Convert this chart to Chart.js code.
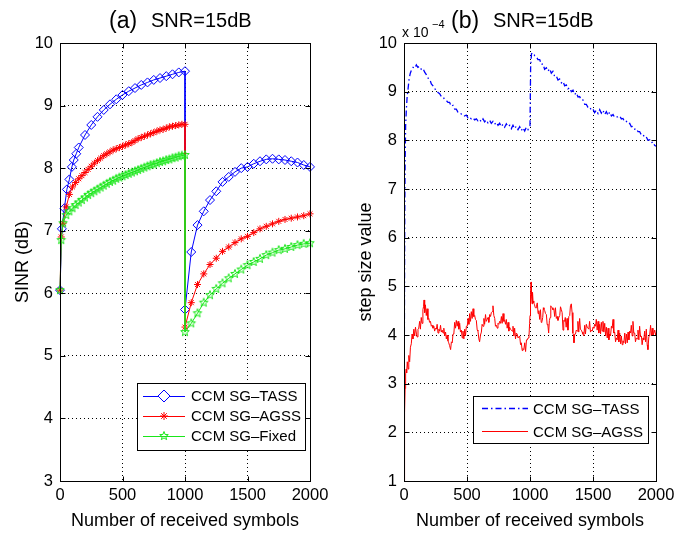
<!DOCTYPE html>
<html>
<head>
<meta charset="utf-8">
<script src="https://cdn.jsdelivr.net/npm/chart.js@4.4.1/dist/chart.umd.min.js"></script>
<style>
  html, body { margin: 0; padding: 0; background: #fff; }
  #wrap { position: relative; width: 695px; height: 536px; }
  #chartA { position: absolute; left: 0; top: 0; }
  #chartB { position: absolute; left: 347px; top: 0; }
</style>
</head>
<body>
<div id="wrap">
  <canvas id="chartA" width="347" height="536"></canvas>
  <canvas id="chartB" width="348" height="536"></canvas>
</div>
<script>
// (a) SINR vs number of received symbols
const tassX = [0, 15, 35, 55, 75, 95, 110, 130, 150, 200, 250, 300, 350, 400, 450, 500, 550, 600, 650, 700, 750, 800, 850, 900, 950, 1000,
  1000, 1050, 1100, 1150, 1200, 1250, 1300, 1350, 1400, 1450, 1500, 1550, 1600, 1650, 1700, 1750, 1800, 1850, 1900, 1950, 2000];
const tassSinr = [6.05, 7.03, 7.36, 7.66, 7.82, 8.02, 8.13, 8.23, 8.33, 8.53, 8.69, 8.82, 8.93, 9.02, 9.10, 9.17, 9.23, 9.28, 9.33, 9.37, 9.41, 9.44, 9.47, 9.50, 9.53, 9.55,
  5.74, 6.66, 7.09, 7.31, 7.49, 7.63, 7.78, 7.86, 7.94, 8.00, 8.02, 8.07, 8.11, 8.14, 8.15, 8.14, 8.13, 8.11, 8.09, 8.05, 8.02];

const denseX = [0, 10, 25, 50, 75, 100, 125, 150, 175, 200, 225, 250, 275, 300, 325, 350, 375, 400, 425, 450, 475,
  500, 525, 550, 575, 600, 625, 650, 675, 700, 725, 750, 775, 800, 825, 850, 875, 900, 925, 950, 975, 1000,
  1000, 1050, 1100, 1150, 1200, 1250, 1300, 1350, 1400, 1450, 1500, 1550, 1600, 1650, 1700, 1750, 1800, 1850, 1900, 1950, 2000];
const agssSinr = [6.05, 6.90, 7.12, 7.38, 7.58, 7.70, 7.77, 7.83, 7.88, 7.93, 7.98, 8.03, 8.08, 8.12, 8.16, 8.20, 8.23, 8.26, 8.29, 8.31, 8.33,
  8.35, 8.37, 8.39, 8.41, 8.44, 8.47, 8.49, 8.51, 8.53, 8.55, 8.57, 8.59, 8.61, 8.62, 8.64, 8.66, 8.67, 8.68, 8.69, 8.70, 8.70,
  5.46, 5.85, 6.14, 6.31, 6.46, 6.56, 6.67, 6.74, 6.81, 6.87, 6.91, 6.97, 7.03, 7.07, 7.11, 7.15, 7.18, 7.20, 7.22, 7.24, 7.27];
const fixedSinr = [6.05, 6.85, 7.12, 7.25, 7.31, 7.36, 7.41, 7.45, 7.49, 7.53, 7.57, 7.60, 7.63, 7.66, 7.69, 7.72, 7.75, 7.78, 7.80, 7.83, 7.85,
  7.87, 7.89, 7.91, 7.93, 7.95, 7.97, 7.99, 8.01, 8.03, 8.05, 8.06, 8.08, 8.10, 8.11, 8.13, 8.14, 8.16, 8.17, 8.19, 8.20, 8.21,
  5.38, 5.52, 5.68, 5.85, 5.97, 6.07, 6.16, 6.24, 6.31, 6.38, 6.45, 6.50, 6.55, 6.61, 6.65, 6.69, 6.71, 6.74, 6.77, 6.79, 6.80];

// (b) step size value, in units of 1e-4
const tassStepX = [
  0, 2, 4, 6, 9, 13, 18, 25, 32, 40,
  50, 60, 72, 85, 98, 110, 124, 137, 151, 164,
  177, 190, 204, 217, 230, 243, 257, 270, 283, 296,
  309, 322, 335, 349, 362, 375, 389, 402, 415, 428,
  441, 455, 468, 481, 494, 508, 521, 534, 548, 561,
  574, 587, 600, 614, 627, 640, 653, 666, 680, 693,
  706, 719, 733, 746, 759, 772, 786, 799, 812, 825,
  839, 852, 865, 878, 891, 905, 918, 931, 944, 958,
  971, 984, 995, 1000, 1005, 1012, 1024, 1037, 1050, 1063,
  1077, 1090, 1103, 1116, 1130, 1143, 1156, 1169, 1182, 1196,
  1209, 1222, 1235, 1249, 1262, 1275, 1288, 1301, 1315, 1328,
  1341, 1354, 1368, 1381, 1394, 1407, 1420, 1434, 1447, 1460,
  1473, 1487, 1500, 1513, 1526, 1540, 1553, 1566, 1579, 1593,
  1606, 1619, 1632, 1646, 1659, 1672, 1685, 1698, 1712, 1725,
  1738, 1751, 1765, 1778, 1791, 1804, 1817, 1831, 1844, 1857,
  1870, 1884, 1897, 1910, 1923, 1936, 1950, 1963, 1976, 1989,
  2000];
const tassStep = [
  1.00, 3.00, 5.00, 6.50, 7.60, 8.30, 8.60, 8.90, 9.05, 9.25,
  9.38, 9.45, 9.50, 9.48, 9.55, 9.50, 9.52, 9.46, 9.48, 9.40,
  9.35, 9.28, 9.26, 9.16, 9.12, 9.06, 9.04, 8.98, 8.96, 8.90,
  8.90, 8.84, 8.82, 8.78, 8.78, 8.70, 8.72, 8.64, 8.64, 8.58,
  8.58, 8.54, 8.54, 8.50, 8.52, 8.46, 8.48, 8.44, 8.46, 8.42,
  8.44, 8.40, 8.43, 8.38, 8.44, 8.38, 8.42, 8.36, 8.41, 8.35,
  8.39, 8.33, 8.37, 8.31, 8.35, 8.28, 8.33, 8.27, 8.34, 8.28,
  8.31, 8.24, 8.31, 8.24, 8.29, 8.22, 8.28, 8.20, 8.26, 8.19,
  8.27, 8.22, 8.28, 8.30, 9.50, 9.78, 9.80, 9.74, 9.72, 9.66,
  9.66, 9.56, 9.57, 9.46, 9.49, 9.42, 9.47, 9.38, 9.42, 9.31,
  9.32, 9.24, 9.26, 9.18, 9.21, 9.12, 9.14, 9.06, 9.08, 9.00,
  9.03, 8.94, 8.98, 8.89, 8.90, 8.83, 8.83, 8.74, 8.74, 8.68,
  8.69, 8.62, 8.64, 8.57, 8.62, 8.55, 8.63, 8.56, 8.62, 8.53,
  8.59, 8.51, 8.58, 8.50, 8.53, 8.47, 8.48, 8.48, 8.50, 8.44,
  8.45, 8.38, 8.39, 8.34, 8.35, 8.28, 8.29, 8.23, 8.24, 8.18,
  8.18, 8.11, 8.12, 8.06, 8.07, 8.00, 8.01, 7.95, 7.97, 7.90,
  7.88];

const agssStepX = [
  0, 3, 6, 9, 13, 17, 21, 26, 32, 38,
  45, 51, 58, 64, 71, 78, 85, 91, 98, 104,
  111, 117, 124, 130, 137, 143, 150, 155, 159, 164,
  170, 177, 183, 190, 197, 203, 210, 217, 223, 230,
  237, 243, 250, 257, 263, 270, 277, 283, 290, 296,
  303, 310, 316, 323, 330, 336, 343, 349, 355, 362,
  370, 376, 383, 389, 396, 402, 409, 415, 422, 429,
  435, 442, 448, 455, 462, 468, 475, 482, 488, 495,
  502, 508, 515, 521, 528, 534, 541, 548, 554, 561,
  567, 574, 581, 587, 594, 600, 607, 614, 620, 627,
  634, 640, 647, 653, 660, 667, 673, 680, 687, 693,
  700, 706, 713, 720, 726, 733, 740, 746, 753, 759,
  766, 773, 779, 786, 793, 799, 806, 812, 819, 826,
  832, 838, 845, 852, 858, 865, 872, 878, 885, 891,
  898, 905, 911, 918, 925, 931, 938, 944, 951, 958,
  965, 972, 979, 985, 992, 997, 1000, 1004, 1008, 1012,
  1016, 1020, 1024, 1030, 1036, 1042, 1048, 1053, 1058, 1064,
  1070, 1077, 1083, 1089, 1095, 1101, 1106, 1111, 1117, 1123,
  1130, 1136, 1142, 1148, 1154, 1160, 1165, 1169, 1175, 1182,
  1189, 1196, 1202, 1209, 1216, 1222, 1229, 1236, 1242, 1249,
  1255, 1262, 1268, 1274, 1280, 1287, 1294, 1301, 1308, 1315,
  1321, 1328, 1334, 1340, 1345, 1349, 1355, 1361, 1367, 1374,
  1380, 1387, 1394, 1400, 1407, 1414, 1420, 1427, 1434, 1440,
  1447, 1454, 1460, 1467, 1473, 1480, 1487, 1494, 1500, 1507,
  1513, 1520, 1526, 1533, 1540, 1546, 1553, 1560, 1566, 1573,
  1579, 1586, 1593, 1600, 1606, 1613, 1620, 1626, 1632, 1639,
  1646, 1652, 1659, 1665, 1672, 1679, 1685, 1692, 1699, 1705,
  1712, 1719, 1725, 1732, 1738, 1745, 1752, 1758, 1765, 1772,
  1778, 1785, 1791, 1798, 1804, 1811, 1817, 1824, 1831, 1837,
  1844, 1851, 1857, 1864, 1870, 1877, 1884, 1890, 1897, 1903,
  1910, 1917, 1923, 1930, 1936, 1943, 1950, 1957, 1963, 1970,
  1976, 1983, 1990, 1997, 2000];
const agssStep = [
  1.00, 1.80, 2.40, 2.90, 3.20, 3.30, 3.22, 3.45, 3.30, 3.58,
  3.45, 3.75, 3.82, 4.02, 3.92, 4.12, 3.98, 4.16, 4.04, 3.96,
  4.12, 4.14, 4.28, 4.12, 4.36, 4.24, 4.52, 4.58, 4.72, 4.46,
  4.62, 4.40, 4.54, 4.32, 4.34, 4.26, 4.28, 4.18, 4.20, 4.14,
  4.18, 4.08, 4.14, 4.12, 4.22, 4.04, 4.12, 4.08, 4.20, 4.06,
  4.10, 4.04, 4.14, 3.98, 4.06, 3.92, 4.00, 3.88, 3.84, 3.78,
  3.70, 3.86, 3.84, 4.02, 4.04, 4.26, 4.14, 4.30, 4.18, 4.28,
  4.12, 4.24, 4.06, 4.10, 3.94, 4.08, 3.92, 4.12, 3.98, 4.18,
  4.18, 4.34, 4.22, 4.44, 4.28, 4.48, 4.34, 4.54, 4.38, 4.40,
  4.32, 4.30, 4.10, 4.08, 3.92, 3.86, 4.00, 4.06, 4.22, 4.18,
  4.34, 4.22, 4.42, 4.28, 4.32, 4.36, 4.26, 4.42, 4.38, 4.46,
  4.48, 4.60, 4.40, 4.34, 4.18, 4.20, 4.14, 4.24, 4.22, 4.28,
  4.24, 4.38, 4.24, 4.44, 4.28, 4.30, 4.22, 4.32, 4.14, 4.26,
  4.08, 4.16, 4.12, 4.10, 4.08, 4.18, 3.98, 4.14, 3.92, 4.04,
  4.02, 3.94, 3.94, 3.98, 3.80, 3.84, 3.68, 3.72, 3.70, 3.84,
  3.66, 3.90, 3.90, 3.94, 3.98, 4.24, 4.40, 4.84, 5.09, 4.80,
  4.64, 4.88, 4.70, 4.66, 4.62, 4.56, 4.56, 4.62, 4.66, 4.44,
  4.50, 4.32, 4.52, 4.26, 4.28, 4.36, 4.56, 4.52, 4.50, 4.44,
  4.42, 4.22, 4.20, 4.04, 4.30, 4.36, 4.60, 4.58, 4.56, 4.52,
  4.54, 4.38, 4.56, 4.34, 4.38, 4.30, 4.36, 4.40, 4.58, 4.52,
  4.46, 4.10, 4.30, 4.28, 4.36, 4.16, 4.34, 4.10, 4.38, 4.40,
  4.60, 4.64, 4.46, 4.04, 4.00, 3.84, 4.02, 4.02, 4.10, 4.08,
  4.28, 4.06, 4.34, 4.12, 4.10, 4.06, 4.02, 3.98, 4.20, 4.02,
  4.22, 4.16, 4.16, 4.12, 4.28, 4.06, 4.10, 4.08, 4.16, 4.14,
  4.22, 4.18, 4.32, 4.10, 4.28, 4.04, 4.22, 4.02, 4.26, 4.08,
  4.28, 4.06, 4.24, 3.98, 4.16, 3.94, 4.14, 3.90, 4.02, 3.98,
  4.18, 4.14, 4.32, 4.04, 4.06, 3.86, 3.94, 3.90, 4.10, 3.86,
  4.04, 3.82, 3.98, 3.80, 3.88, 3.84, 4.04, 3.82, 4.02, 3.84,
  4.06, 3.90, 4.08, 4.04, 4.20, 3.98, 4.28, 4.04, 4.04, 3.86,
  3.94, 3.92, 4.10, 3.90, 4.18, 3.96, 3.98, 3.80, 3.94, 3.90,
  4.08, 3.86, 4.12, 3.80, 3.70, 3.96, 4.00, 4.20, 3.98, 4.14,
  4.00, 4.04, 4.10, 4.00, 4.04];

const FONT = '"Liberation Sans", Arial, Helvetica, sans-serif';
const BLUE = '#0000ff';
const RED = '#ff0000';
const GREEN = '#19e619';

Chart.defaults.font.family = FONT;
Chart.defaults.color = '#000';

function toPoints(xs, ys) {
  return xs.map((x, i) => ({ x, y: ys[i] }));
}

// hollow pentagram marker (matlab 'p')
function pentagram(color, r) {
  const c = document.createElement('canvas');
  const s = Math.ceil(r * 2 + 3);
  c.width = s;
  c.height = s;
  const g = c.getContext('2d');
  g.strokeStyle = color;
  g.lineWidth = 1;
  g.beginPath();
  for (let i = 0; i < 10; i++) {
    const ang = -Math.PI / 2 + (i * Math.PI) / 5;
    const rr = i % 2 ? r * 0.42 : r;
    g.lineTo(s / 2 + rr * Math.cos(ang), s / 2 + rr * Math.sin(ang));
  }
  g.closePath();
  g.stroke();
  return c;
}
const greenStar = pentagram(GREEN, 4.5);

// box around the axes plus matlab-style inner ticks
const boxPlugin = {
  id: 'matlabBox',
  afterDatasetsDraw(chart) {
    const { ctx, chartArea: a, scales } = chart;
    const L = Math.round(a.left) + 0.5;
    const R = Math.round(a.right) + 0.5;
    const T = Math.round(a.top) + 0.5;
    const B = Math.round(a.bottom) + 0.5;
    ctx.save();
    ctx.strokeStyle = '#000';
    ctx.lineWidth = 1;
    ctx.setLineDash([]);
    ctx.beginPath();
    scales.x.ticks.forEach((t) => {
      const px = Math.round(scales.x.getPixelForValue(t.value)) + 0.5;
      ctx.moveTo(px, B); ctx.lineTo(px, B - 5);
      ctx.moveTo(px, T); ctx.lineTo(px, T + 5);
    });
    scales.y.ticks.forEach((t) => {
      const py = Math.round(scales.y.getPixelForValue(t.value)) + 0.5;
      ctx.moveTo(L, py); ctx.lineTo(L + 5, py);
      ctx.moveTo(R, py); ctx.lineTo(R - 5, py);
    });
    ctx.stroke();
    ctx.strokeRect(L, T, R - L, B - T);
    ctx.restore();
  },
};

function textPlugin(id, draw) {
  return {
    id,
    afterDraw(chart) {
      const ctx = chart.ctx;
      ctx.save();
      ctx.fillStyle = '#000';
      ctx.textBaseline = 'alphabetic';
      ctx.textAlign = 'left';
      draw(ctx);
      ctx.restore();
    },
  };
}

function legendBox(ctx, x, y, w, h) {
  ctx.fillStyle = '#fff';
  ctx.fillRect(x, y, w, h);
  ctx.strokeStyle = '#000';
  ctx.lineWidth = 1;
  ctx.setLineDash([]);
  ctx.strokeRect(x + 0.5, y + 0.5, w, h);
}

function scaleOpts(min, max, step, title, titlePad, width, height, axis) {
  return {
    type: 'linear',
    min,
    max,
    ticks: {
      stepSize: step,
      color: '#000',
      font: { size: 16.5 },
      padding: axis === 'x' ? 5 : 7,
      maxRotation: 0,
      autoSkip: false,
      callback: (v) => String(v),
    },
    grid: { color: '#000', lineWidth: 1, drawTicks: false },
    border: { display: false, dash: [1, 3] },
    title: {
      display: true,
      text: title,
      color: '#000',
      font: { size: 18 },
      padding: titlePad,
    },
    afterFit(scale) {
      if (axis === 'x') scale.height = height;
      else scale.width = width;
    },
  };
}

const titleA = textPlugin('titleA', (ctx) => {
  ctx.font = '23px ' + FONT;
  ctx.fillText('(a)', 109, 28);
  ctx.font = '20px ' + FONT;
  ctx.fillText('SNR=15dB', 151, 27);
});

const legendA = textPlugin('legendA', (ctx) => {
  legendBox(ctx, 137, 383, 168, 67);
  const rows = [
    { y: 396, color: BLUE, label: 'CCM SG\u2013TASS', marker: 'diamond' },
    { y: 416, color: RED, label: 'CCM SG\u2013AGSS', marker: 'asterisk' },
    { y: 436, color: GREEN, label: 'CCM SG\u2013Fixed', marker: 'star' },
  ];
  rows.forEach((r) => {
    ctx.strokeStyle = r.color;
    ctx.lineWidth = 1;
    ctx.beginPath();
    ctx.moveTo(143, r.y + 0.5);
    ctx.lineTo(185, r.y + 0.5);
    ctx.stroke();
    const mx = 164;
    if (r.marker === 'diamond') {
      ctx.beginPath();
      ctx.moveTo(mx, r.y - 6); ctx.lineTo(mx + 6, r.y); ctx.lineTo(mx, r.y + 6); ctx.lineTo(mx - 6, r.y); ctx.closePath();
      ctx.fillStyle = '#fff';
      ctx.fill();
      ctx.stroke();
    } else if (r.marker === 'asterisk') {
      ctx.beginPath();
      for (let k = 0; k < 4; k++) {
        const ang = (k * Math.PI) / 4;
        ctx.moveTo(mx - 4 * Math.cos(ang), r.y - 4 * Math.sin(ang));
        ctx.lineTo(mx + 4 * Math.cos(ang), r.y + 4 * Math.sin(ang));
      }
      ctx.stroke();
    } else {
      ctx.drawImage(greenStar, mx - greenStar.width / 2, r.y - greenStar.height / 2);
    }
    ctx.fillStyle = '#000';
    ctx.font = '15px ' + FONT;
    ctx.textBaseline = 'middle';
    ctx.fillText(r.label, 191, r.y + 1);
  });
});

new Chart(document.getElementById('chartA'), {
  type: 'scatter',
  data: {
    datasets: [
      {
        label: 'CCM SG\u2013TASS',
        data: toPoints(tassX, tassSinr),
        showLine: true,
        borderColor: BLUE,
        borderWidth: 1,
        pointStyle: 'rectRot',
        pointRadius: 4.5,
        pointBorderColor: BLUE,
        pointBackgroundColor: 'rgba(0,0,0,0)',
        pointBorderWidth: 1,
        clip: 8,
        order: 2,
      },
      {
        label: 'CCM SG\u2013AGSS',
        data: toPoints(denseX, agssSinr),
        showLine: true,
        borderColor: RED,
        borderWidth: 1,
        pointStyle: 'star',
        pointRadius: 3.5,
        pointBorderColor: RED,
        pointBackgroundColor: 'rgba(0,0,0,0)',
        pointBorderWidth: 1,
        clip: 8,
        order: 1,
      },
      {
        label: 'CCM SG\u2013Fixed',
        data: toPoints(denseX, fixedSinr),
        showLine: true,
        borderColor: GREEN,
        borderWidth: 1,
        pointStyle: greenStar,
        pointRadius: 4.5,
        clip: 8,
        order: 0,
      },
    ],
  },
  options: {
    responsive: false,
    animation: false,
    devicePixelRatio: 1,
    layout: { padding: { top: 43, right: 37, left: 0, bottom: 0 } },
    plugins: { legend: { display: false }, tooltip: { enabled: false } },
    scales: {
      x: scaleOpts(0, 2000, 500, 'Number of received symbols', { top: 0, bottom: 4 }, 0, 55, 'x'),
      y: scaleOpts(3, 10, 1, 'SINR (dB)', { top: 12, bottom: 0 }, 60, 0, 'y'),
    },
  },
  plugins: [boxPlugin, titleA, legendA],
});

const titleB = textPlugin('titleB', (ctx) => {
  ctx.font = '23px ' + FONT;
  ctx.fillText('(b)', 104, 28);
  ctx.font = '20px ' + FONT;
  ctx.fillText('SNR=15dB', 146, 27);
  ctx.font = '14px ' + FONT;
  ctx.fillText('x 10', 55, 37);
  ctx.font = '11px ' + FONT;
  ctx.fillText('\u22124', 85, 28);
});

const legendB = textPlugin('legendB', (ctx) => {
  legendBox(ctx, 126, 396, 175, 47);
  const rows = [
    { y: 408.5, color: BLUE, label: 'CCM SG\u2013TASS', dash: [6, 3, 1.5, 3], width: 1.3 },
    { y: 431.5, color: RED, label: 'CCM SG\u2013AGSS', dash: [], width: 1 },
  ];
  rows.forEach((r) => {
    ctx.strokeStyle = r.color;
    ctx.lineWidth = r.width;
    ctx.setLineDash(r.dash);
    ctx.beginPath();
    ctx.moveTo(135, r.y);
    ctx.lineTo(181, r.y);
    ctx.stroke();
    ctx.setLineDash([]);
    ctx.fillStyle = '#000';
    ctx.font = '15px ' + FONT;
    ctx.textBaseline = 'middle';
    ctx.fillText(r.label, 186, r.y + 1);
  });
});

new Chart(document.getElementById('chartB'), {
  type: 'scatter',
  data: {
    datasets: [
      {
        label: 'CCM SG\u2013TASS',
        data: toPoints(tassStepX, tassStep),
        showLine: true,
        borderColor: BLUE,
        borderWidth: 1.3,
        borderDash: [6, 3, 1.5, 3],
        pointRadius: 0,
        order: 1,
      },
      {
        label: 'CCM SG\u2013AGSS',
        data: toPoints(agssStepX, agssStep),
        showLine: true,
        borderColor: RED,
        borderWidth: 1,
        pointRadius: 0,
        order: 0,
      },
    ],
  },
  options: {
    responsive: false,
    animation: false,
    devicePixelRatio: 1,
    layout: { padding: { top: 43, right: 39, left: 0, bottom: 0 } },
    plugins: { legend: { display: false }, tooltip: { enabled: false } },
    scales: {
      x: scaleOpts(0, 2000, 500, 'Number of received symbols', { top: 0, bottom: 4 }, 0, 55, 'x'),
      y: scaleOpts(1, 10, 1, 'step size value', { top: 8, bottom: 0 }, 57, 0, 'y'),
    },
  },
  plugins: [boxPlugin, titleB, legendB],
});
</script>
</body>
</html>
